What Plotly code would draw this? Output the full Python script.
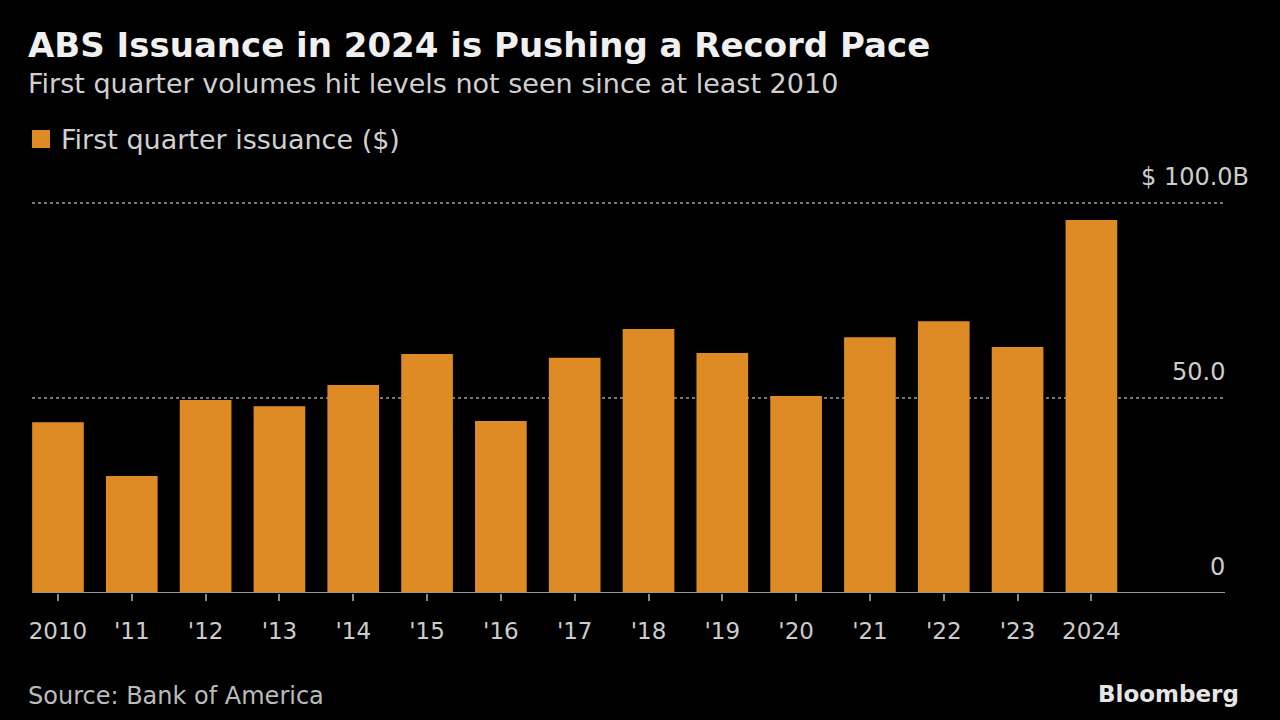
import plotly.graph_objects as go

years = ["2010", "'11", "'12", "'13", "'14", "'15", "'16", "'17", "'18", "'19", "'20", "'21", "'22", "'23", "2024"]
issuance = [43.8, 30.0, 49.5, 47.9, 53.3, 61.3, 44.1, 60.3, 67.7, 61.5, 50.5, 65.6, 69.7, 63.1, 95.6]
y_ticks = [0, 50, 100]
y_labels = ["0", "50.0", "$ 100.0B"]

FONT = "DejaVu Sans"
ORANGE = "#DE8B26"
xpos = list(range(len(years)))

fig = go.Figure()
fig.add_trace(go.Bar(x=xpos, y=issuance, marker_color=ORANGE, width=0.70,
                     marker_line_width=0, name="First quarter issuance ($)"))

fig.update_layout(
    width=1280, height=720,
    paper_bgcolor="black", plot_bgcolor="black",
    margin=dict(l=32, r=55, t=201, b=127),
    showlegend=False,
    font=dict(family=FONT, color="#CCCCCC"),
    xaxis=dict(range=[-0.352, 15.81], tickmode="array", tickvals=xpos, ticktext=years,
               showgrid=False, zeroline=False, showline=False,
               ticks="outside", ticklen=7, tickwidth=2, tickcolor="#888888",
               ticklabelstandoff=10,
               tickfont=dict(size=23, color="#CCCCCC", family=FONT)),
    yaxis=dict(range=[0, 100.5], tickvals=[50, 100], showticklabels=False,
               showgrid=True, gridcolor="#777777", griddash="dot", gridwidth=1.5,
               zeroline=False, showline=False),
)

# baseline
fig.add_shape(type="line", xref="paper", yref="y", x0=0, x1=1, y0=0, y1=0,
              line=dict(color="#999999", width=2), layer="above")

PX_X0, PX_X1 = 32, 1225

def px_to_paper_x(px):
    return (px - PX_X0) / (PX_X1 - PX_X0)

for v, lab in zip(y_ticks, y_labels):
    right = 1251 if lab.startswith("$") else 1227
    fig.add_annotation(x=px_to_paper_x(right), xref="paper", y=v, yref="y", text=lab,
                       showarrow=False, xanchor="right", yanchor="middle", yshift=26,
                       font=dict(size=24, color="#CCCCCC", family=FONT))

def paper_ann(text, px, py, size, color, bold=False, xanchor="left"):
    # plot area: x 32..1225, y 201..593
    xp = px_to_paper_x(px)
    yp = (593 - py) / (593 - 201)
    fig.add_annotation(text=f"<b>{text}</b>" if bold else text,
                       x=xp, y=yp, xref="paper", yref="paper",
                       xanchor=xanchor, yanchor="middle", showarrow=False,
                       font=dict(size=size, color=color, family=FONT))

paper_ann("ABS Issuance in 2024 is Pushing a Record Pace", 26, 45, 34, "#F0F0F0", bold=True)
paper_ann("First quarter volumes hit levels not seen since at least 2010", 26, 83, 27, "#D0D0D0")
paper_ann("First quarter issuance ($)", 59, 139, 27, "#D0D0D0")
paper_ann("Source: Bank of America", 26, 696, 24, "#BBBBBB")
paper_ann("Bloomberg", 1241, 694, 23, "#E6E6E6", bold=True, xanchor="right")

# legend swatch
fig.add_shape(type="rect", xref="paper", yref="paper",
              x0=px_to_paper_x(32), x1=px_to_paper_x(50),
              y0=(593 - 148) / 392, y1=(593 - 130) / 392,
              fillcolor=ORANGE, line_width=0)

fig.write_html("out.html", config={"displayModeBar": False},
               post_script="document.body.style.margin='0';document.body.style.padding='0';"
                           "document.body.style.background='black';")
